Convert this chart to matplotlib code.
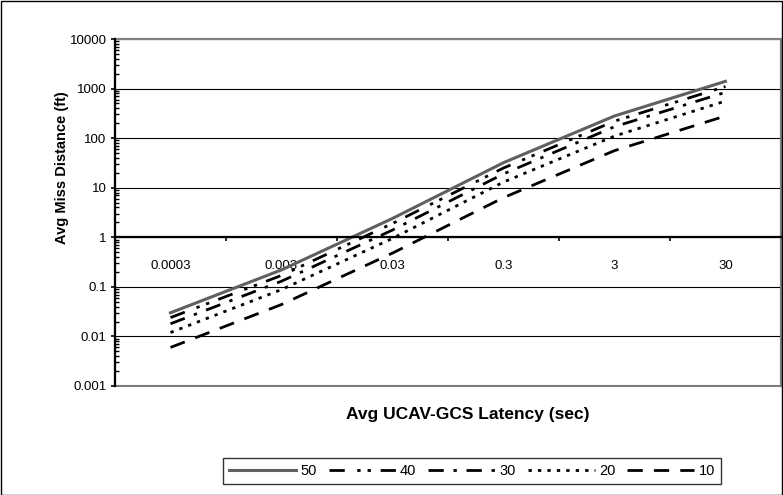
import matplotlib
matplotlib.use("Agg")
import matplotlib.pyplot as plt
import matplotlib.patches as patches
from matplotlib.ticker import FixedLocator, FixedFormatter, LogLocator, NullFormatter

plt.rcParams['font.family'] = ['Liberation Sans', 'DejaVu Sans']

# ---- data ----
categories = ["0.0003", "0.003", "0.03", "0.3", "3", "30"]
series_names = ["50", "40", "30", "20", "10"]
s50 = [0.030, 0.22, 2.4, 32, 280, 1400]
s40 = [0.024, 0.17, 1.9, 25, 220, 1100]
s30 = [0.018, 0.13, 1.4, 19, 170, 840]
s20 = [0.012, 0.088, 0.95, 13, 110, 560]
s10 = [0.006, 0.044, 0.48, 6.3, 56, 280]
ytick_values = [0.001, 0.01, 0.1, 1, 10, 100, 1000, 10000]
ytick_labels = ["0.001", "0.01", "0.1", "1", "10", "100", "1000", "10000"]
xlabel = "Avg UCAV-GCS Latency (sec)"
ylabel = "Avg Miss Distance (ft)"

W, H = 783, 495
fig = plt.figure(figsize=(W / 100, H / 100), dpi=100)
L, R, T, B = 115, 781, 39, 386
ax = fig.add_axes([L / W, 1 - B / H, (R - L) / W, (B - T) / H])

styles = [
    dict(color="#606060", lw=2.2, ls="-"),
    dict(color="black", lw=2.0, ls=(0, (5.5, 4.5, 1.2, 2.5, 1.2, 3.5))),
    dict(color="black", lw=2.0, ls=(0, (5.5, 3.5, 1.2, 3.5))),
    dict(color="black", lw=2.0, ls=(0, (1.2, 2.2))),
    dict(color="black", lw=2.0, ls=(0, (5.5, 4))),
]
x = list(range(len(categories)))
for name, vals, st in zip(series_names, [s50, s40, s30, s20, s10], styles):
    ax.plot(x, vals, label=name, zorder=4, **st)

ax.set_yscale("log")
ax.set_ylim(ytick_values[0], ytick_values[-1])
ax.set_xlim(-0.5, len(categories) - 0.5)

ax.yaxis.set_major_locator(FixedLocator(ytick_values))
ax.yaxis.set_major_formatter(FixedFormatter(ytick_labels))
ax.yaxis.set_minor_locator(LogLocator(base=10, subs=range(2, 10), numticks=20))
ax.yaxis.set_minor_formatter(NullFormatter())
ax.tick_params(axis="y", which="major", direction="out", length=3, width=1.2,
               labelsize=9.5, pad=3)
ax.tick_params(axis="y", which="minor", direction="in", length=3, width=1)

ax.xaxis.set_major_locator(FixedLocator(x))
ax.xaxis.set_major_formatter(FixedFormatter(categories))
ax.xaxis.set_minor_locator(FixedLocator([i + 0.5 for i in x]))
ax.tick_params(axis="x", which="major", length=0, labelsize=9.5, pad=16)
ax.tick_params(axis="x", which="minor", direction="out", length=3, width=1.2)

ax.grid(axis="y", which="major", color="black", lw=0.8, zorder=1)
ax.set_axisbelow(True)

ax.spines["bottom"].set_position(("data", 1))
ax.spines["bottom"].set_color("black")
ax.spines["bottom"].set_linewidth(1.6)
ax.spines["left"].set_color("black")
ax.spines["left"].set_linewidth(1.6)
for s in ("top", "right"):
    ax.spines[s].set_color("#808080")
    ax.spines[s].set_linewidth(1.5)
ax.add_patch(patches.Rectangle((0, 0), 1, 1, transform=ax.transAxes, fill=False,
                               ec="#808080", lw=1.5, clip_on=False, zorder=0.5))
ax.spines["left"].set_zorder(5)
ax.spines["bottom"].set_zorder(5)

fig.text(468 / W, 1 - 414 / H, xlabel, ha="center", va="center",
         fontsize=12.5, fontweight="bold")
fig.text(62 / W, 1 - 168 / H, ylabel, ha="center", va="center",
         fontsize=10.5, fontweight="bold", rotation=90)

leg = ax.legend(loc="center", bbox_to_anchor=(472 / W, 1 - 471 / H),
                bbox_transform=fig.transFigure, ncol=5, fontsize=10.5,
                handlelength=4.6, handletextpad=0.3, columnspacing=0.8,
                borderpad=0.4, frameon=True, fancybox=False)
leg.get_frame().set_edgecolor("black")
leg.get_frame().set_linewidth(1.0)

fig.patches.append(patches.Rectangle((0.5 / W, 0.5 / H), 1 - 1.5 / W, 1 - 1.5 / H,
                                     transform=fig.transFigure, fill=False,
                                     ec="black", lw=1.0))

fig.savefig("out.png", dpi=100)
